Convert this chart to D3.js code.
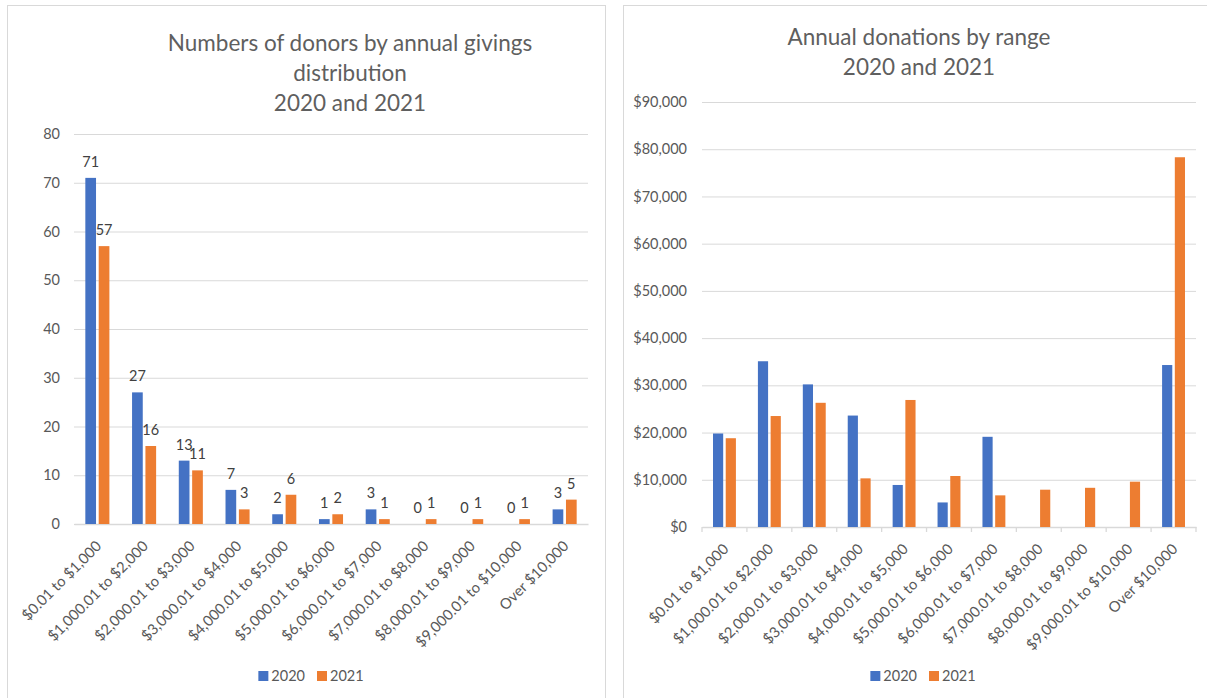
<!DOCTYPE html>
<html>
<head>
<meta charset="utf-8">
<script src="https://cdn.jsdelivr.net/npm/d3@7"></script>
<style>
  html, body { margin: 0; padding: 0; background: #fff; }
  svg { display: block; font-family: Lato, "Open Sans", sans-serif; }
</style>
</head>
<body>
<svg id="chart" width="1207" height="698"></svg>
<script>
// ---------- data ----------
const categories = [
  "$0.01 to $1,000", "$1,000.01 to $2,000", "$2,000.01 to $3,000",
  "$3,000.01 to $4,000", "$4,000.01 to $5,000", "$5,000.01 to $6,000",
  "$6,000.01 to $7,000", "$7,000.01 to $8,000", "$8,000.01 to $9,000",
  "$9,000.01 to $10,000", "Over $10,000"
];
const seriesNames = ["2020", "2021"];
const donors2020 = [71, 27, 13, 7, 2, 1, 3, 0, 0, 0, 3];
const donors2021 = [57, 16, 11, 3, 6, 2, 1, 1, 1, 1, 5];
const amount2020 = [19800, 35100, 30200, 23600, 8900, 5200, 19100, 0, 0, 0, 34300];
const amount2021 = [18800, 23500, 26300, 10300, 26900, 10800, 6700, 7900, 8300, 9600, 78300];
const donorTicks = [0, 10, 20, 30, 40, 50, 60, 70, 80];
const amountTicks = [0, 10000, 20000, 30000, 40000, 50000, 60000, 70000, 80000, 90000];
const leftTitle = ["Numbers of donors by annual givings", "distribution", "2020 and 2021"];
const rightTitle = ["Annual donations by range", "2020 and 2021"];

const colors = { "2020": "#4472C4", "2021": "#ED7D31" };
const TEXT = "#595959";
const GRID = "#d9d9d9";

const svg = d3.select("#chart");

// panel frames
svg.append("rect").attr("x", 7.5).attr("y", 5.5).attr("width", 598).attr("height", 720)
  .attr("fill", "#fff").attr("stroke", GRID).attr("stroke-width", 1);
svg.append("rect").attr("x", 623.5).attr("y", 5.5).attr("width", 620).attr("height", 720)
  .attr("fill", "#fff").attr("stroke", GRID).attr("stroke-width", 1);

function drawChart(cfg) {
  const g = svg.append("g");
  const x0 = d3.scaleBand().domain(categories).range([cfg.xl, cfg.xr]).paddingInner(cfg.pad).paddingOuter(cfg.pad / 2);
  const x1 = d3.scaleBand().domain(seriesNames).range([0, x0.bandwidth()]).paddingInner(0.2);
  const y = d3.scaleLinear().domain([0, cfg.ticks[cfg.ticks.length - 1]]).range([cfg.yb, cfg.yt]);

  // title
  cfg.title.forEach((t, i) => {
    g.append("text").attr("x", cfg.titleX).attr("y", cfg.titleY + i * 30)
      .attr("text-anchor", "middle").attr("font-size", 22.5)
      .attr("fill", "#5f5f5f").text(t);
  });

  // gridlines + y axis labels
  const yAxis = d3.axisLeft(y).tickValues(cfg.ticks).tickSize(-(cfg.xr - cfg.xl)).tickPadding(cfg.tickPad).tickFormat(cfg.fmt);
  const ya = g.append("g").attr("transform", `translate(${cfg.xl},0)`).call(yAxis);
  ya.select(".domain").remove();
  ya.selectAll(".tick line").attr("stroke", GRID).attr("stroke-width", 1);
  ya.selectAll(".tick text").attr("fill", TEXT).attr("font-size", 14.5).attr("font-family", "Lato, sans-serif");

  // x axis
  const xAxis = d3.axisBottom(x0).tickSize(0).tickPadding(0);
  const xa = g.append("g").attr("transform", `translate(0,${cfg.yb})`).call(xAxis);
  xa.select(".domain").attr("stroke", GRID).attr("stroke-width", 1.3);
  xa.selectAll(".tick text")
    .attr("font-size", 14.8).attr("font-family", "Lato, sans-serif").attr("fill", TEXT)
    .attr("text-anchor", "end")
    .attr("transform", "translate(5,23) rotate(-45)")
    .attr("dy", 0).attr("y", 0).attr("x", 0);
  if (cfg.boundaryTicks) {
    const bounds = categories.map(c => x0(c) - x0.step() * x0.paddingInner() / 2);
    bounds.push(cfg.xr);
    g.append("g").selectAll("line").data(bounds).join("line")
      .attr("x1", d => d).attr("x2", d => d)
      .attr("y1", cfg.yb).attr("y2", cfg.yb + 5)
      .attr("stroke", GRID).attr("stroke-width", 1.3);
  }

  // bars
  const rows = categories.map((c, i) => ({ cat: c, vals: seriesNames.map((s, k) => ({ s, v: cfg.series[k][i] })) }));
  const grp = g.append("g").selectAll("g").data(rows).join("g")
    .attr("transform", d => `translate(${x0(d.cat)},0)`);
  grp.selectAll("rect").data(d => d.vals).join("rect")
    .attr("x", d => x1(d.s)).attr("width", x1.bandwidth())
    .attr("y", d => y(d.v)).attr("height", d => cfg.yb - y(d.v))
    .attr("fill", d => colors[d.s]);

  if (cfg.labels) {
    grp.selectAll("text").data(d => d.vals).join("text")
      .attr("x", d => x1(d.s) + x1.bandwidth() / 2)
      .attr("y", d => y(d.v) - 11)
      .attr("text-anchor", "middle").attr("font-size", 14.5).attr("fill", "#404040")
      .text(d => d.v);
  }

  // legend
  const lg = g.append("g");
  let cx = 0;
  seriesNames.forEach(s => {
    lg.append("rect").attr("x", cx).attr("y", -10).attr("width", 10).attr("height", 10).attr("fill", colors[s]);
    const t = lg.append("text").attr("x", cx + 13).attr("y", 0).attr("font-size", 14.5).attr("fill", TEXT).text(s);
    cx += 13 + t.node().getComputedTextLength() + 12;
  });
  const lw = cx - 12;
  lg.attr("transform", `translate(${cfg.legendX - lw / 2},${cfg.legendY})`);
}

drawChart({
  xl: 74, xr: 588, yb: 524, yt: 134, pad: 0.485, tickPad: 14,
  ticks: donorTicks, fmt: d3.format("d"), series: [donors2020, donors2021],
  title: leftTitle, titleX: 350, titleY: 51, labels: true, boundaryTicks: false,
  legendX: 311, legendY: 681
});

drawChart({
  xl: 702, xr: 1196, yb: 527, yt: 102, pad: 0.49, tickPad: 15,
  ticks: amountTicks, fmt: d3.format("$,"), series: [amount2020, amount2021],
  title: rightTitle, titleX: 919, titleY: 45, labels: false, boundaryTicks: true,
  legendX: 923, legendY: 681
});
</script>
</body>
</html>
